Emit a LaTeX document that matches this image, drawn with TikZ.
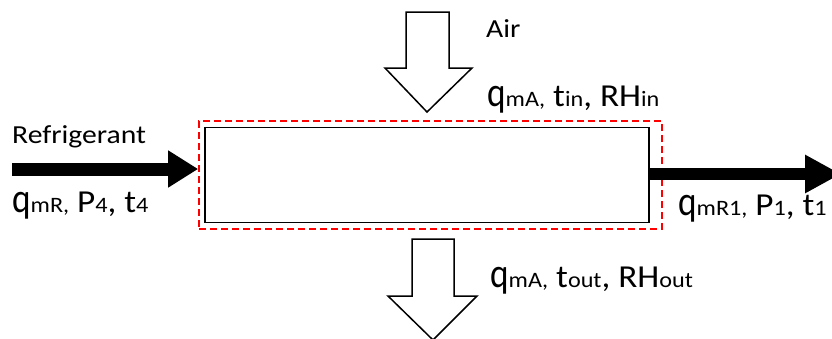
\documentclass[tikz,border=0pt]{standalone}
\usepackage{fontspec}
\setmainfont{Carlito}
\newfontfamily\labelfont[FakeStretch=1.1]{Carlito}
\newfontfamily\namefont[FakeStretch=1.14]{Carlito}
\usetikzlibrary{arrows.meta}
% smaller index text that sits on the main baseline
\newcommand{\lo}[1]{{\fontsize{22pt}{22pt}\selectfont #1}}
% the tall flow-rate letter
\newcommand{\qq}{\scalebox{1}[1.3]{q}}

\begin{document}
\begin{tikzpicture}[x=1pt,y=-1pt,
  big/.style={font=\labelfont\fontsize{32pt}{36pt}\selectfont, inner sep=0pt, anchor=base west},
  small/.style={font=\namefont\fontsize{26pt}{30pt}\selectfont, inner sep=0pt, anchor=base west},
  blockarrow/.style={draw=black, line width=1.5pt, fill=white, line join=miter},
  flow/.style={line width=13pt, -{Triangle[length=30pt,width=35pt]}},
  hxbox/.style={draw=black, line width=1.6pt, minimum width=444pt, minimum height=95pt, inner sep=0pt},
  cvbox/.style={draw=red, line width=1.6pt, dash pattern=on 7pt off 4pt, minimum width=463pt, minimum height=108pt, inner sep=0pt}
]
\useasboundingbox (0,0) rectangle (832,338);

% heat exchanger and its control volume
\node[cvbox] (cv) at (430.5,175) {};
\node[hxbox] (hx) at (427,175) {};

% air stream in (top) and out (bottom)
\draw[blockarrow] (406,12) -- (449,12) -- (449,68) -- (472,68) -- (427,112) -- (385,68) -- (406,68) -- cycle;
\draw[blockarrow] (412,239) -- (454,239) -- (454,296) -- (477,296) -- (433,340) -- (388,296) -- (412,296) -- cycle;

% refrigerant stream in and out
\coordinate (rin) at (12,169);
\coordinate (rout) at (841,174);
\draw[flow] (rin) -- (cv.west |- rin);
\draw[flow, line width=12pt, -{Triangle[length=36pt,width=36pt]}] (hx.east |- rout) -- (rout);

% labels
\node[small] (air) at (486,37) {Air};
\node[big] (ain) at (487,106) {\qq\lo{mA,} t\lo{in}, RH\lo{in}};
\node[small] (ref) at (12,143) {Refrigerant};
\node[big] (rinl) at (12,212) {\qq\lo{mR,} P\lo{4}, t\lo{4}};
\node[big] (routl) at (678,215) {\qq\lo{mR1,} P\lo{1}, t\lo{1}};
\node[big] (aout) at (490,287) {\qq\lo{mA,} t\lo{out}, RH\lo{out}};
\end{tikzpicture}
\end{document}
